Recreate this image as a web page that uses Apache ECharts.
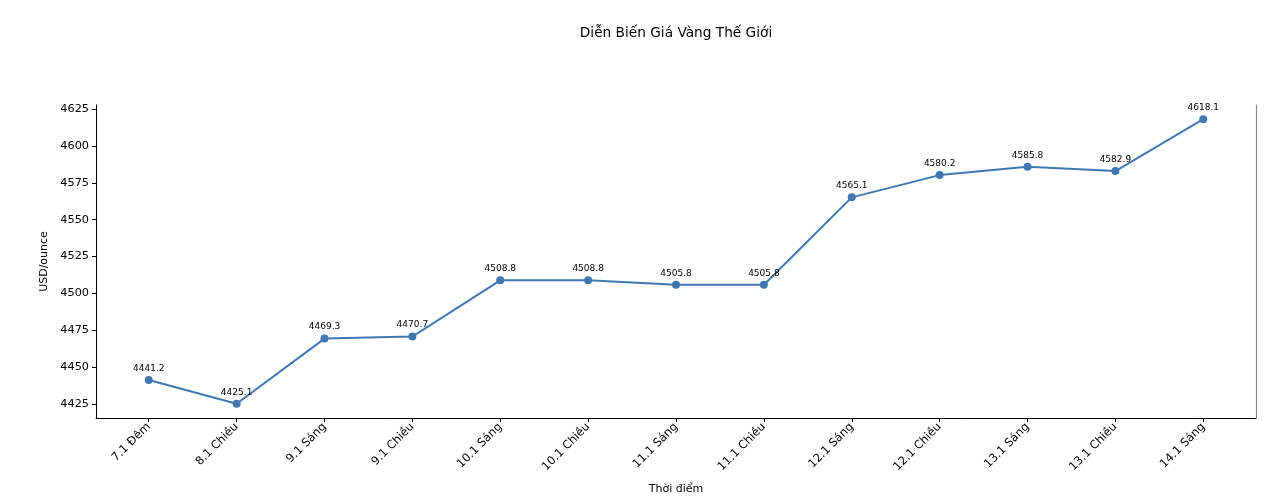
<!DOCTYPE html>
<html><head><meta charset="utf-8">
<script src="https://cdn.jsdelivr.net/npm/echarts@6/dist/echarts.min.js"></script>
<style>html,body{margin:0;padding:0;background:#fff}#c{width:1288px;height:502px}</style>
</head><body><div id="c"></div>
<script>
var categories = ['7.1 Đêm','8.1 Chiều','9.1 Sáng','9.1 Chiều','10.1 Sáng','10.1 Chiều','11.1 Sáng','11.1 Chiều','12.1 Sáng','12.1 Chiều','13.1 Sáng','13.1 Chiều','14.1 Sáng'];
var prices = [4441.2,4425.1,4469.3,4470.7,4508.8,4508.8,4505.8,4505.8,4565.1,4580.2,4585.8,4582.9,4618.1];
var yTicks = [4425,4450,4475,4500,4525,4550,4575,4600,4625];
var titleText = 'Diễn Biến Giá Vàng Thế Giới';
var xName = 'Thời điểm';
var yName = 'USD/ounce';

var font = 'DejaVu Sans';
var chart = echarts.init(document.getElementById('c'));
var idx = categories.map(function(_, i){ return i; });
var lo = Math.min.apply(null, prices), hi = Math.max.apply(null, prices), pad = (hi - lo) * 0.05;
chart.setOption({
  animation: false,
  title: { text: titleText, left: 671, top: 21, textAlign: 'center',
    textStyle: { fontFamily: font, fontSize: 13.7, fontWeight: 'normal', color: '#000' } },
  grid: { left: 96, right: 32, top: 105, bottom: 84 },
  xAxis: {
    type: 'value', min: -0.6, max: categories.length - 1 + 0.6,
    name: xName, nameLocation: 'middle', nameGap: 66,
    nameTextStyle: { fontFamily: font, fontSize: 11, color: '#000' },
    axisLine: { onZero: false, lineStyle: { color: '#000', width: 1 } },
    axisTick: { show: true, customValues: idx, length: 4, lineStyle: { color: '#000' } },
    axisLabel: { customValues: idx, rotate: 45, margin: 7, fontFamily: font, fontSize: 11.5, color: '#000',
      formatter: function(v){ return categories[Math.round(v)]; } },
    splitLine: { show: false }
  },
  yAxis: [{
    type: 'value', min: lo - pad, max: hi + pad,
    name: yName, nameLocation: 'middle', nameGap: 46, nameMoveOverlap: false,
    nameTextStyle: { fontFamily: font, fontSize: 11, color: '#000' },
    axisLine: { show: true, onZero: false, lineStyle: { color: '#000', width: 1 } },
    axisTick: { show: true, customValues: yTicks, length: 4, lineStyle: { color: '#000' } },
    axisLabel: { customValues: yTicks, margin: 7, fontFamily: font, fontSize: 11.3, color: '#000',
      formatter: function(v){ return String(Math.round(v)); } },
    splitLine: { show: false }
  }, {
    type: 'value', position: 'right', min: lo - pad, max: hi + pad,
    axisLine: { show: true, onZero: false, lineStyle: { color: '#888', width: 1.2 } },
    axisTick: { show: false }, axisLabel: { show: false }, splitLine: { show: false }
  }],
  series: [{
    type: 'line', yAxisIndex: 0,
    data: prices.map(function(v, i){ return [i, v]; }),
    symbol: 'circle', symbolSize: 8,
    lineStyle: { color: '#4178b0', width: 2 },
    itemStyle: { color: '#4178b0' },
    label: { show: true, position: 'top', distance: 3, fontFamily: font, fontSize: 9, color: '#000',
      formatter: function(p){ return p.value[1].toFixed(1); } }
  }]
});
</script></body></html>
